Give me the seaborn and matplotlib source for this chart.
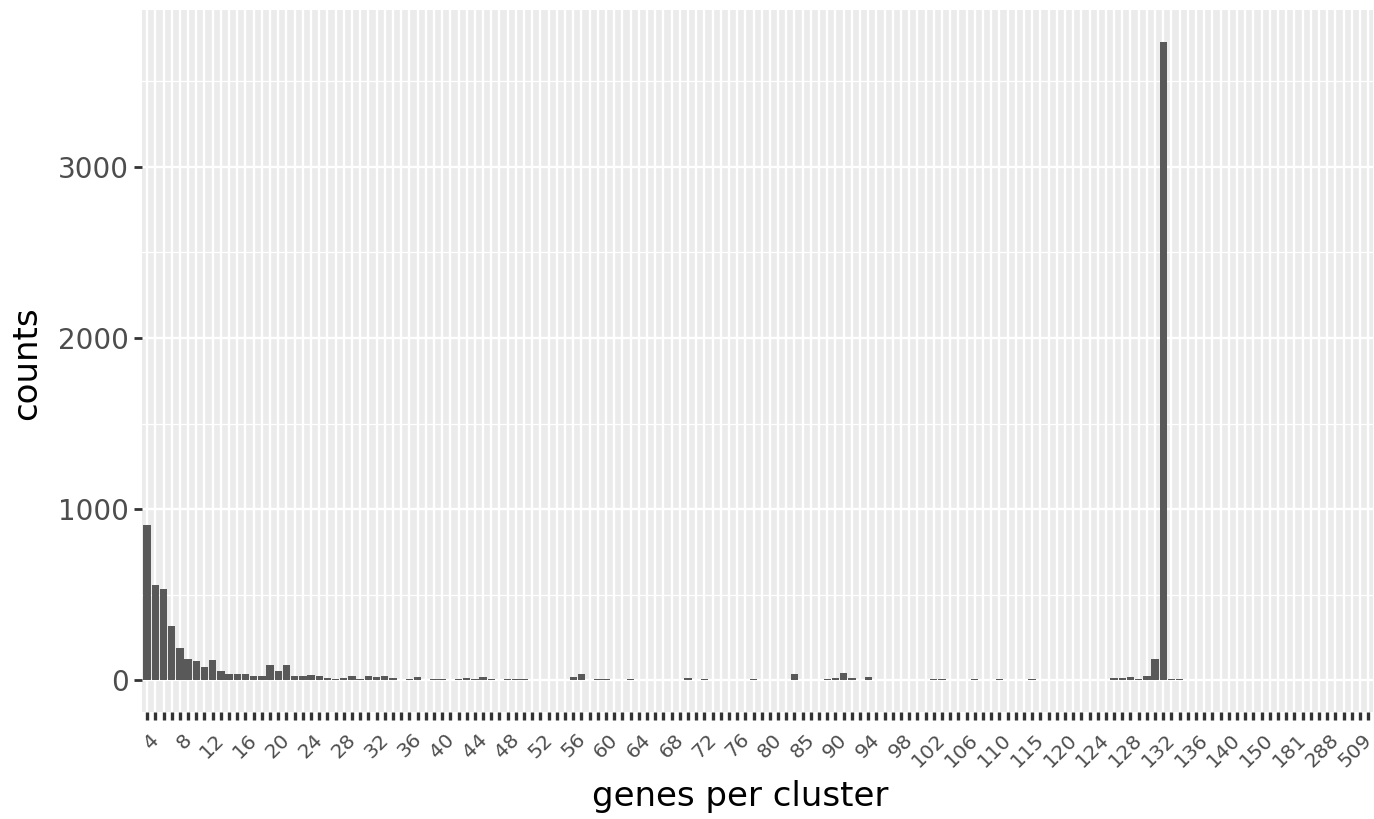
import numpy as np
import pandas as pd
import seaborn as sns
import matplotlib.pyplot as plt
import matplotlib.transforms as mtransforms
from matplotlib.ticker import MultipleLocator

# genes per cluster (categories as they appear on the x axis)
genes = (list(range(3, 81)) + [81, 82, 83, 85, 86, 87, 88, 90]
         + list(range(91, 111)) + [111, 112, 113, 115, 116, 117, 118, 120]
         + list(range(121, 141))
         + [142, 144, 147, 150, 155, 162, 170, 181, 195, 214, 250, 288,
            320, 360, 420, 509])

counts = [
    906, 554, 530, 318, 187, 125, 109, 74, 115, 55,
    35, 35, 35, 27, 27, 86, 53, 86, 23, 23,
    29, 23, 10, 8, 10, 25, 4, 25, 16, 23,
    10, 2, 8, 16, 2, 6, 8, 2, 6, 12,
    6, 18, 6, 2, 8, 6, 6, 2, 2, 2,
    2, 2, 19, 33, 2, 6, 6, 2, 1, 6,
    2, 1, 2, 2, 1, 2, 12, 2, 6, 2,
    1, 1, 2, 2, 6, 2, 2, 1, 1, 35,
    2, 1, 2, 8, 12, 41, 14, 2, 19, 2,
    1, 1, 1, 2, 1, 2, 4, 4, 1, 1,
    1, 4, 2, 2, 5, 1, 1, 3, 4, 1,
    1, 2, 1, 2, 3, 3, 1, 2, 15, 14,
    16, 4, 27, 121, 3731, 8, 8, 2, 2, 2,
    2, 1, 1, 1, 2, 1, 1, 1, 1, 1,
    1, 1, 1, 1, 1, 1, 1, 1, 1, 1,
]

df = pd.DataFrame({"genes": [str(g) for g in genes], "counts": counts})
n = len(df)

fig = plt.figure(figsize=(13.74, 8.19), dpi=100)
ax = fig.add_axes([0.1035, 0.1306, 0.8958, 0.8572])

sns.barplot(data=df, x="genes", y="counts", color="#595959", saturation=1,
            width=0.9, linewidth=0, errorbar=None, ax=ax)

# ggplot-like grey panel
ax.set_facecolor("#EBEBEB")
for s in ax.spines.values():
    s.set_visible(False)
ax.set_axisbelow(True)
ax.yaxis.set_minor_locator(MultipleLocator(500))
ax.set_yticks([0, 1000, 2000, 3000])
ax.grid(True, which="major", axis="both", color="white", linewidth=1.7)
ax.grid(True, which="minor", axis="y", color="white", linewidth=0.9)

ymax = max(counts)
ax.set_ylim(-0.05 * ymax, 1.05 * ymax)
ax.set_xlim(-0.6, n - 0.4)

ax.tick_params(axis="x", length=5.8, width=2.4, color="#333333", pad=7,
               labelsize=14.5, labelcolor="#4D4D4D")
ax.tick_params(axis="y", which="major", length=5.8, width=2.0, color="#333333",
               pad=3.5, labelsize=20, labelcolor="#4D4D4D")
ax.tick_params(axis="y", which="minor", length=0)

ax.set_xticks(range(n))
ax.set_xticklabels([lab if i % 4 == 1 else "" for i, lab in enumerate(df["genes"])],
                   rotation=45, ha="right", rotation_mode="anchor")
# nudge the rotated labels a little to the left so the last one stays inside
shift = mtransforms.ScaledTranslation(-6 / 100, 0, fig.dpi_scale_trans)
for tick in ax.xaxis.get_major_ticks():
    tick.label1.set_transform(tick.label1.get_transform() + shift)

ax.set_xlabel("genes per cluster", fontsize=24.5, va="center")
ax.xaxis.set_label_coords(0.486, -0.121)
ax.set_ylabel("counts", fontsize=24.5, va="center")
ax.yaxis.set_label_coords(-0.0936, 0.497)

fig.savefig("out.png", dpi=100)
